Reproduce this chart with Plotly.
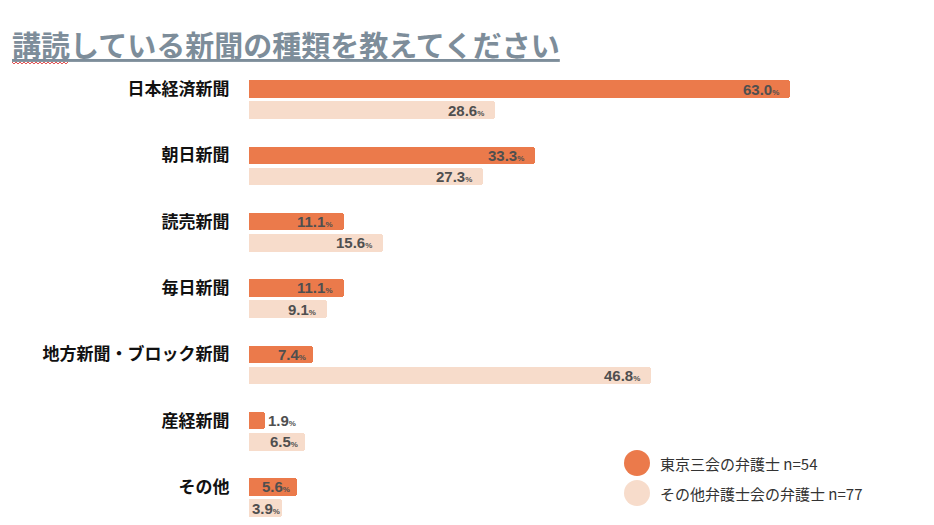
import plotly.graph_objects as go

categories = ["日本経済新聞", "朝日新聞", "読売新聞", "毎日新聞", "地方新聞・ブロック新聞", "産経新聞", "その他"]
tokyo = [63.0, 33.3, 11.1, 11.1, 7.4, 1.9, 5.6]
other = [28.6, 27.3, 15.6, 9.1, 46.8, 6.5, 3.9]
series_names = ["東京三会の弁護士 n=54", "その他弁護士会の弁護士 n=77"]
title_text = "講読している新聞の種類を教えてください"

C_DARK = "#EB7A4B"
C_LIGHT = "#F7DCCB"
TXT = "#4F4F4F"
JP = "Noto Sans CJK JP"
NUM = "Liberation Sans"

OFF = 0.32
W = 0.265

L, T, PW, PH = 249, 70, 644, 450

pos_t = list(range(len(categories)))
pos_o = [p + OFF for p in pos_t]

fig = go.Figure()
fig.add_trace(go.Bar(y=pos_t, x=tokyo, orientation="h", width=W,
                     marker=dict(color=C_DARK, cornerradius=3, line=dict(width=0)),
                     name=series_names[0], showlegend=False, hoverinfo="skip"))
fig.add_trace(go.Bar(y=pos_o, x=other, orientation="h", width=W,
                     marker=dict(color=C_LIGHT, cornerradius=3, line=dict(width=0)),
                     name=series_names[1], showlegend=False, hoverinfo="skip"))

annotations = []
def lab(v):
    return f"<b>{v:.1f}</b><span style='font-size:8px'><b>%</b></span>"

for ys, vals in ((pos_t, tokyo), (pos_o, other)):
    for y, v in zip(ys, vals):
        f = dict(family=NUM, size=15, color=TXT)
        if v < 3:
            annotations.append(dict(x=v, y=y, xref="x", yref="y", text=lab(v), showarrow=False,
                                    xanchor="left", xshift=1, font=f))
        elif v < 5:
            annotations.append(dict(x=0, y=y, xref="x", yref="y", text=lab(v), showarrow=False,
                                    xanchor="left", xshift=1, font=f))
        else:
            annotations.append(dict(x=v, y=y, xref="x", yref="y", text=lab(v), showarrow=False,
                                    xanchor="right", xshift=-9 if v > 8 else -5, font=f))

def px(xp):
    return (xp - L) / PW
def py(yp):
    return 1 - (yp - T) / PH

# title
annotations.append(dict(x=px(10), y=py(44), xref="paper", yref="paper",
                        text=f"<b><u>{title_text}</u></b>",
                        showarrow=False, xanchor="left", yanchor="middle",
                        font=dict(family=JP, size=29, color="#7D8D9A")))

shapes = []
# spell-check squiggle under the first two characters of the title
pts = []
x = 12
k = 0
while x <= 68:
    pts.append(f"{px(x)},{py(62 if k % 2 == 0 else 64)}")
    x += 2
    k += 1
shapes.append(dict(type="path", xref="paper", yref="paper", path="M " + " L ".join(pts),
                   line=dict(color="#E05050", width=1)))

# legend
legend_y = [463, 493]
for i, (nm, col) in enumerate(zip(series_names, [C_DARK, C_LIGHT])):
    shapes.append(dict(type="circle", xref="paper", yref="paper", xsizemode="pixel", ysizemode="pixel",
                       xanchor=px(637), yanchor=py(legend_y[i]), x0=-13, x1=13, y0=-13, y1=13,
                       fillcolor=col, line=dict(width=0)))
    annotations.append(dict(x=px(658), y=py(legend_y[i]), xref="paper", yref="paper", text=nm,
                            showarrow=False, xanchor="left", yanchor="middle",
                            font=dict(family=JP, size=15, color="#333333")))

fig.update_layout(
    width=934, height=525,
    margin=dict(l=L, r=934 - L - PW, t=T, b=525 - T - PH),
    paper_bgcolor="white", plot_bgcolor="white",
    bargap=0, barmode="overlay",
    xaxis=dict(range=[0, 75], visible=False, fixedrange=True),
    yaxis=dict(range=[6.498, -0.2865], tickvals=pos_t, ticktext=[f"<b>{c}</b>" for c in categories],
               showgrid=False, zeroline=False, showline=False, fixedrange=True,
               ticks="outside", ticklen=15, tickcolor="rgba(0,0,0,0)",
               tickfont=dict(family=JP, size=17, color="#111111")),
    annotations=annotations, shapes=shapes,
    showlegend=False,
)

fig.write_html("out.html", config={"displayModeBar": False},
               post_script="document.body.style.margin='0';document.body.style.padding='0';")
